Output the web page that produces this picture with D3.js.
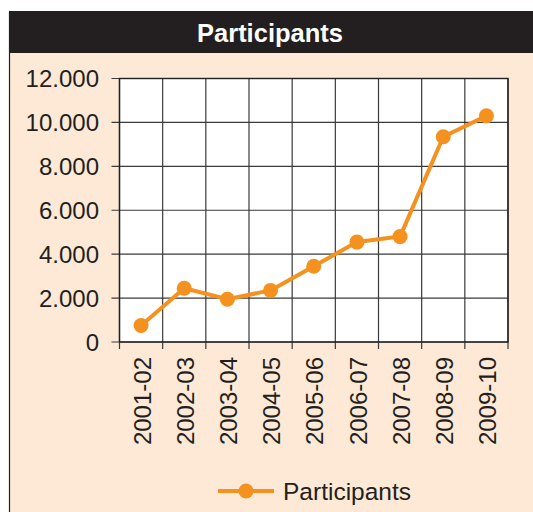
<!DOCTYPE html>
<html>
<head>
<meta charset="utf-8">
<script src="https://cdn.jsdelivr.net/npm/d3@7"></script>
<style>
  body { margin: 0; background: #ffffff; }
  svg { display: block; font-family: "Liberation Sans", Arial, sans-serif; }
  .chartTitle { font-weight: bold; font-size: 25.5px; fill: #ffffff; }
  .tickLabel { font-size: 24px; fill: #231f20; }
  .legendText { font-size: 24.5px; fill: #231f20; }
</style>
</head>
<body>
<div id="chart"></div>
<script>

// data
const seasons = ["2001-02", "2002-03", "2003-04", "2004-05", "2005-06",
                 "2006-07", "2007-08", "2008-09", "2009-10"];
const participants = [750, 2450, 1950, 2350, 3450, 4550, 4800, 9350, 10300];
const yTicks = [0, 2000, 4000, 6000, 8000, 10000, 12000];
const seriesName = "Participants";

const width = 533;
const height = 512;
const orange = "#f5911f";

const svg = d3.select("#chart").append("svg")
    .attr("width", width)
    .attr("height", height);

/***** PANEL *****/

svg.append("rect")
    .attr("x", 9).attr("y", 11)
    .attr("width", width - 9).attr("height", height - 11)
    .attr("fill", "#fde9d6");

svg.append("line")
    .attr("x1", 9.5).attr("x2", 9.5)
    .attr("y1", 11).attr("y2", height)
    .attr("stroke", "#231f20")
    .attr("stroke-width", 1.2);

svg.append("rect")
    .attr("x", 9).attr("y", 11)
    .attr("width", width - 9).attr("height", 42)
    .attr("fill", "#231f20");

svg.append("text")
    .attr("class", "chartTitle")
    .attr("x", 270)
    .attr("y", 42)
    .attr("text-anchor", "middle")
    .text(seriesName);

/***** SCALES *****/

const margin = {top: 78.5, left: 119.5, right: 25, bottom: 170};
const plotRight = width - margin.right;
const plotBottom = height - margin.bottom;

const xBand = d3.scaleBand()
    .domain(seasons)
    .range([margin.left, plotRight]);

const yScale = d3.scaleLinear()
    .domain([0, 12000])
    .range([plotBottom, margin.top]);

// plot background
svg.append("rect")
    .attr("x", margin.left).attr("y", margin.top)
    .attr("width", plotRight - margin.left)
    .attr("height", plotBottom - margin.top)
    .attr("fill", "#ffffff");

/***** GRID *****/

const grid = svg.append("g").attr("class", "grid");

grid.selectAll(".hgrid")
    .data(yTicks)
    .enter()
    .append("line")
    .attr("x1", margin.left - 8)
    .attr("x2", plotRight)
    .attr("y1", d => yScale(d))
    .attr("y2", d => yScale(d))
    .attr("stroke", "#3a3a3a")
    .attr("stroke-width", 1.2);

const xEdges = seasons.map(d => xBand(d)).concat([plotRight]);

grid.selectAll(".vgrid")
    .data(xEdges)
    .enter()
    .append("line")
    .attr("x1", d => d)
    .attr("x2", d => d)
    .attr("y1", margin.top)
    .attr("y2", plotBottom + 7)
    .attr("stroke", "#3a3a3a")
    .attr("stroke-width", 1.2);

// plot border
svg.append("rect")
    .attr("x", margin.left).attr("y", margin.top)
    .attr("width", plotRight - margin.left)
    .attr("height", plotBottom - margin.top)
    .attr("fill", "none")
    .attr("stroke", "#231f20")
    .attr("stroke-width", 1.4);

/***** AXIS LABELS *****/

svg.selectAll(".yLabel")
    .data(yTicks)
    .enter()
    .append("text")
    .attr("class", "tickLabel")
    .attr("x", 99)
    .attr("y", d => yScale(d))
    .attr("dy", "0.36em")
    .attr("text-anchor", "end")
    .text(d => d3.format(",")(d).replace(",", "."));

svg.selectAll(".xLabel")
    .data(seasons)
    .enter()
    .append("text")
    .attr("class", "tickLabel")
    .attr("text-anchor", "end")
    .attr("dy", "0.36em")
    .attr("transform", d => `translate(${xBand(d) + xBand.bandwidth() / 2 + 1}, ${plotBottom + 15}) rotate(-90)`)
    .text(d => d);

/***** LINE *****/

const cx = d => xBand(d) + xBand.bandwidth() / 2;

const line = d3.line()
    .x((d, i) => cx(seasons[i]))
    .y(d => yScale(d));

svg.append("path")
    .datum(participants)
    .attr("d", line)
    .attr("fill", "none")
    .attr("stroke", orange)
    .attr("stroke-width", 4)
    .attr("stroke-linejoin", "round");

svg.selectAll(".dot")
    .data(participants)
    .enter()
    .append("circle")
    .attr("cx", (d, i) => cx(seasons[i]))
    .attr("cy", d => yScale(d))
    .attr("r", 7.5)
    .attr("fill", orange);

/***** LEGEND *****/

const legend = svg.append("g").attr("transform", "translate(218, 491)");

legend.append("line")
    .attr("x1", 0).attr("x2", 56)
    .attr("y1", 0).attr("y2", 0)
    .attr("stroke", orange)
    .attr("stroke-width", 4);

legend.append("circle")
    .attr("cx", 28).attr("cy", 0)
    .attr("r", 7.5)
    .attr("fill", orange);

legend.append("text")
    .attr("class", "legendText")
    .attr("x", 65)
    .attr("y", 0)
    .attr("dy", "0.36em")
    .text(seriesName);

</script>
</body>
</html>
